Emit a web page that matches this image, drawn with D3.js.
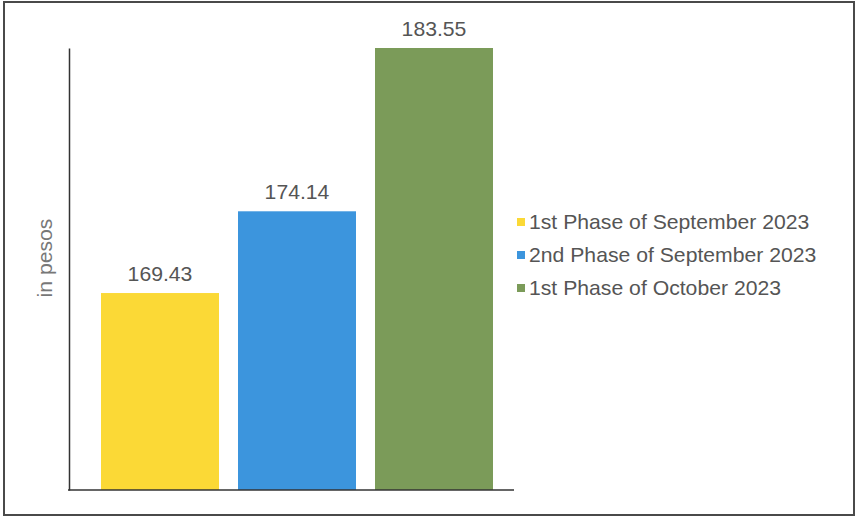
<!DOCTYPE html>
<html><head><meta charset="utf-8">
<script src="https://cdn.jsdelivr.net/npm/d3@7"></script>
<style>html,body{margin:0;padding:0;background:#fff;}svg{display:block;}</style>
</head><body>
<script>
const categories = ["1st Phase of September 2023", "2nd Phase of September 2023", "1st Phase of October 2023"];
const values = [169.43, 174.14, 183.55];
const colors = ["#fbd936", "#3c95dd", "#7b9b59"];
const yDomain = [158.08, 183.55];
const yLabel = "in pesos";

const W = 857, H = 517;
const svg = d3.select("body").append("svg").attr("width", W).attr("height", H);
const font = "Liberation Sans, Arial, sans-serif";
const sx = 1.06;

// outer frame
svg.append("rect").attr("x", 4).attr("y", 2).attr("width", 850).attr("height", 513)
  .attr("fill", "none").attr("stroke", "#4a4a4a").attr("stroke-width", 2);

const x = d3.scaleBand().domain(categories).range([101, 493]).paddingInner(19 / 137).paddingOuter(0);
const y = d3.scaleLinear().domain(yDomain).range([490, 48]);

// bars
svg.selectAll("rect.bar").data(values).join("rect").attr("class", "bar")
  .attr("x", (d, i) => x(categories[i]))
  .attr("width", x.bandwidth())
  .attr("y", d => y(d))
  .attr("height", d => y(yDomain[0]) - y(d))
  .attr("fill", (d, i) => colors[i]);

// value labels
svg.selectAll("text.val").data(values).join("text").attr("class", "val")
  .attr("transform", (d, i) => `translate(${x(categories[i]) + x.bandwidth() / 2},${y(d) - 12}) scale(${sx},1)`)
  .attr("text-anchor", "middle")
  .attr("font-family", font).attr("font-size", 20).attr("fill", "#555")
  .text(d => d.toFixed(2));

// axes lines
const yAxis = d3.axisLeft(y).tickValues([]).tickSizeOuter(0);
svg.append("g").attr("transform", "translate(69,0)").call(yAxis)
  .call(g => g.select(".domain").attr("stroke", "#333").attr("stroke-width", 1.5));
svg.append("line").attr("x1", 68).attr("x2", 514).attr("y1", 490).attr("y2", 490)
  .attr("stroke", "#333").attr("stroke-width", 1.5);

// y label
svg.append("text").attr("transform", "translate(52,258) rotate(-90) scale(1.06,1)")
  .attr("text-anchor", "middle")
  .attr("font-family", font).attr("font-size", 20).attr("fill", "#777")
  .text(yLabel);

// legend
const lg = svg.append("g");
categories.forEach((c, i) => {
  const cy = 222 + i * 33;
  lg.append("rect").attr("x", 517).attr("y", cy - 4).attr("width", 8).attr("height", 8).attr("fill", colors[i]);
  lg.append("text").attr("transform", `translate(529,${cy + 7}) scale(${sx},1)`)
    .attr("font-family", font).attr("font-size", 20).attr("fill", "#555")
    .text(c);
});
</script>
</body></html>
